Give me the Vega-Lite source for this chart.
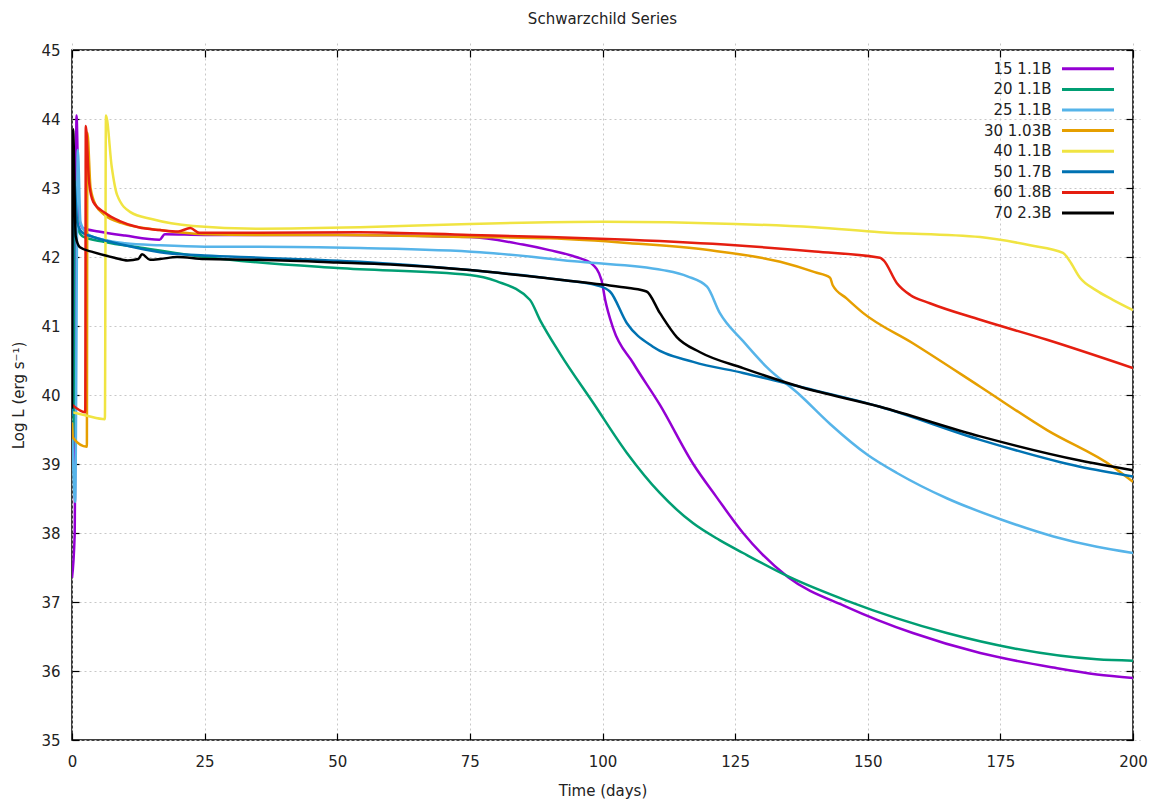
{
  "$schema": "https://vega.github.io/schema/vega-lite/v6.json",
  "width": 1061,
  "height": 690,
  "autosize": {"type": "none"},
  "padding": {"left": 72, "top": 50, "right": 31, "bottom": 63},
  "background": "white",
  "title": {"text": "Schwarzchild Series", "fontSize": 15, "font": "DejaVu Sans", "fontWeight": "normal", "color": "#222", "offset": 16, "anchor": "middle"},
  "config": {
    "view": {"stroke": "black", "strokeWidth": 1.5},
    "axis": {"labelFont": "DejaVu Sans", "titleFont": "DejaVu Sans", "labelFontSize": 15, "titleFontSize": 15, "labelColor": "#222", "titleColor": "#222", "titleFontWeight": "normal", "domain": false, "tickColor": "black", "tickWidth": 1.2, "tickSize": 7, "offset": -7, "labelFlush": false, "labelOverlap": false, "gridColor": "#c8c8c8", "gridDash": [2, 3], "gridWidth": 1}
  },
  "data": {"values": [
    {"s":"15 1.1B","t":0,"L":37.35},{"s":"15 1.1B","t":0.5,"L":37.97},{"s":"15 1.1B","t":0.85,"L":44.05},{"s":"15 1.1B","t":1.3,"L":42.6},{"s":"15 1.1B","t":2,"L":42.42},{"s":"15 1.1B","t":5,"L":42.37},{"s":"15 1.1B","t":10,"L":42.31},{"s":"15 1.1B","t":16.5,"L":42.25},{"s":"15 1.1B","t":17.5,"L":42.33},{"s":"15 1.1B","t":25,"L":42.32},{"s":"15 1.1B","t":50,"L":42.32},{"s":"15 1.1B","t":75,"L":42.29},{"s":"15 1.1B","t":85,"L":42.18},{"s":"15 1.1B","t":90,"L":42.1},{"s":"15 1.1B","t":95,"L":42.0},{"s":"15 1.1B","t":98,"L":41.9},{"s":"15 1.1B","t":99.8,"L":41.67},{"s":"15 1.1B","t":100.5,"L":41.38},{"s":"15 1.1B","t":102,"L":40.97},{"s":"15 1.1B","t":105.8,"L":40.46},{"s":"15 1.1B","t":110.8,"L":39.86},{"s":"15 1.1B","t":117.1,"L":39.0},{"s":"15 1.1B","t":121.5,"L":38.52},{"s":"15 1.1B","t":126.5,"L":38.0},{"s":"15 1.1B","t":130,"L":37.7},{"s":"15 1.1B","t":135,"L":37.36},{"s":"15 1.1B","t":146,"L":36.93},{"s":"15 1.1B","t":158.5,"L":36.55},{"s":"15 1.1B","t":171.2,"L":36.26},{"s":"15 1.1B","t":185,"L":36.05},{"s":"15 1.1B","t":193.2,"L":35.95},{"s":"15 1.1B","t":200,"L":35.9},

    {"s":"20 1.1B","t":0,"L":39.0},{"s":"20 1.1B","t":0.3,"L":39.5},{"s":"20 1.1B","t":0.5,"L":43.1},{"s":"20 1.1B","t":1.2,"L":42.4},{"s":"20 1.1B","t":2,"L":42.3},{"s":"20 1.1B","t":6,"L":42.22},{"s":"20 1.1B","t":13.4,"L":42.13},{"s":"20 1.1B","t":25,"L":42.0},{"s":"20 1.1B","t":50,"L":41.84},{"s":"20 1.1B","t":75,"L":41.74},{"s":"20 1.1B","t":80,"L":41.65},{"s":"20 1.1B","t":86.3,"L":41.38},{"s":"20 1.1B","t":88.2,"L":41.09},{"s":"20 1.1B","t":92,"L":40.6},{"s":"20 1.1B","t":98.3,"L":39.88},{"s":"20 1.1B","t":104.6,"L":39.16},{"s":"20 1.1B","t":110.8,"L":38.58},{"s":"20 1.1B","t":117.1,"L":38.14},{"s":"20 1.1B","t":122,"L":37.9},{"s":"20 1.1B","t":126.5,"L":37.71},{"s":"20 1.1B","t":135,"L":37.37},{"s":"20 1.1B","t":146,"L":37.02},{"s":"20 1.1B","t":164.9,"L":36.55},{"s":"20 1.1B","t":177.4,"L":36.33},{"s":"20 1.1B","t":193.2,"L":36.17},{"s":"20 1.1B","t":200,"L":36.15},

    {"s":"25 1.1B","t":0,"L":39.6},{"s":"25 1.1B","t":0.6,"L":38.45},{"s":"25 1.1B","t":1.1,"L":43.55},{"s":"25 1.1B","t":1.6,"L":42.5},{"s":"25 1.1B","t":3,"L":42.33},{"s":"25 1.1B","t":6,"L":42.25},{"s":"25 1.1B","t":10,"L":42.2},{"s":"25 1.1B","t":16.6,"L":42.17},{"s":"25 1.1B","t":25,"L":42.15},{"s":"25 1.1B","t":35.4,"L":42.15},{"s":"25 1.1B","t":54.3,"L":42.13},{"s":"25 1.1B","t":76.9,"L":42.07},{"s":"25 1.1B","t":95.8,"L":41.93},{"s":"25 1.1B","t":111.4,"L":41.81},{"s":"25 1.1B","t":116,"L":41.72},{"s":"25 1.1B","t":119.7,"L":41.57},{"s":"25 1.1B","t":122.1,"L":41.19},{"s":"25 1.1B","t":126.5,"L":40.78},{"s":"25 1.1B","t":131,"L":40.4},{"s":"25 1.1B","t":137.2,"L":40.0},{"s":"25 1.1B","t":142.9,"L":39.58},{"s":"25 1.1B","t":150,"L":39.13},{"s":"25 1.1B","t":155.5,"L":38.87},{"s":"25 1.1B","t":165,"L":38.5},{"s":"25 1.1B","t":175,"L":38.2},{"s":"25 1.1B","t":185,"L":37.95},{"s":"25 1.1B","t":193.2,"L":37.8},{"s":"25 1.1B","t":200,"L":37.71},

    {"s":"30 1.03B","t":0,"L":39.6},{"s":"30 1.03B","t":0.2,"L":39.38},{"s":"30 1.03B","t":2.8,"L":39.25},{"s":"30 1.03B","t":2.9,"L":43.8},{"s":"30 1.03B","t":3.5,"L":43.0},{"s":"30 1.03B","t":4.5,"L":42.75},{"s":"30 1.03B","t":6,"L":42.62},{"s":"30 1.03B","t":9.4,"L":42.49},{"s":"30 1.03B","t":16.6,"L":42.39},{"s":"30 1.03B","t":25,"L":42.33},{"s":"30 1.03B","t":35,"L":42.32},{"s":"30 1.03B","t":50,"L":42.32},{"s":"30 1.03B","t":75,"L":42.29},{"s":"30 1.03B","t":90,"L":42.27},{"s":"30 1.03B","t":105.2,"L":42.2},{"s":"30 1.03B","t":120,"L":42.1},{"s":"30 1.03B","t":133.5,"L":41.93},{"s":"30 1.03B","t":140,"L":41.78},{"s":"30 1.03B","t":142.9,"L":41.7},{"s":"30 1.03B","t":143.4,"L":41.59},{"s":"30 1.03B","t":146,"L":41.4},{"s":"30 1.03B","t":149.1,"L":41.19},{"s":"30 1.03B","t":158.5,"L":40.75},{"s":"30 1.03B","t":171.2,"L":40.12},{"s":"30 1.03B","t":183.8,"L":39.49},{"s":"30 1.03B","t":196.2,"L":38.96},{"s":"30 1.03B","t":200,"L":38.74},

    {"s":"40 1.1B","t":0,"L":39.75},{"s":"40 1.1B","t":2.8,"L":39.7},{"s":"40 1.1B","t":6.2,"L":39.65},{"s":"40 1.1B","t":6.4,"L":44.05},{"s":"40 1.1B","t":7.5,"L":43.3},{"s":"40 1.1B","t":8.5,"L":42.9},{"s":"40 1.1B","t":11,"L":42.65},{"s":"40 1.1B","t":15,"L":42.55},{"s":"40 1.1B","t":22.8,"L":42.45},{"s":"40 1.1B","t":35.4,"L":42.41},{"s":"40 1.1B","t":54.3,"L":42.43},{"s":"40 1.1B","t":75,"L":42.48},{"s":"40 1.1B","t":100,"L":42.51},{"s":"40 1.1B","t":125,"L":42.48},{"s":"40 1.1B","t":140,"L":42.43},{"s":"40 1.1B","t":152.3,"L":42.36},{"s":"40 1.1B","t":171.2,"L":42.29},{"s":"40 1.1B","t":180.6,"L":42.17},{"s":"40 1.1B","t":186.8,"L":42.06},{"s":"40 1.1B","t":188,"L":41.95},{"s":"40 1.1B","t":190,"L":41.7},{"s":"40 1.1B","t":193,"L":41.52},{"s":"40 1.1B","t":196.2,"L":41.38},{"s":"40 1.1B","t":200,"L":41.23},

    {"s":"50 1.7B","t":0,"L":39.7},{"s":"50 1.7B","t":0.4,"L":43.1},{"s":"50 1.7B","t":1.0,"L":42.5},{"s":"50 1.7B","t":2,"L":42.35},{"s":"50 1.7B","t":4,"L":42.29},{"s":"50 1.7B","t":10,"L":42.17},{"s":"50 1.7B","t":16.6,"L":42.07},{"s":"50 1.7B","t":25,"L":42.02},{"s":"50 1.7B","t":35.4,"L":41.99},{"s":"50 1.7B","t":54.3,"L":41.93},{"s":"50 1.7B","t":75,"L":41.81},{"s":"50 1.7B","t":92,"L":41.67},{"s":"50 1.7B","t":98.9,"L":41.59},{"s":"50 1.7B","t":101.4,"L":41.5},{"s":"50 1.7B","t":104.6,"L":41.04},{"s":"50 1.7B","t":109.5,"L":40.7},{"s":"50 1.7B","t":117.1,"L":40.48},{"s":"50 1.7B","t":126.5,"L":40.32},{"s":"50 1.7B","t":137.2,"L":40.12},{"s":"50 1.7B","t":152.3,"L":39.83},{"s":"50 1.7B","t":171.2,"L":39.35},{"s":"50 1.7B","t":190,"L":38.96},{"s":"50 1.7B","t":200,"L":38.82},

    {"s":"60 1.8B","t":0,"L":39.86},{"s":"60 1.8B","t":2.5,"L":39.75},{"s":"60 1.8B","t":2.6,"L":43.9},{"s":"60 1.8B","t":3.2,"L":43.1},{"s":"60 1.8B","t":4,"L":42.8},{"s":"60 1.8B","t":6.2,"L":42.64},{"s":"60 1.8B","t":9,"L":42.52},{"s":"60 1.8B","t":12.5,"L":42.43},{"s":"60 1.8B","t":16.6,"L":42.39},{"s":"60 1.8B","t":20,"L":42.37},{"s":"60 1.8B","t":22.3,"L":42.42},{"s":"60 1.8B","t":24,"L":42.35},{"s":"60 1.8B","t":35,"L":42.35},{"s":"60 1.8B","t":54,"L":42.36},{"s":"60 1.8B","t":75,"L":42.32},{"s":"60 1.8B","t":90,"L":42.29},{"s":"60 1.8B","t":105,"L":42.25},{"s":"60 1.8B","t":125,"L":42.17},{"s":"60 1.8B","t":140,"L":42.08},{"s":"60 1.8B","t":152.3,"L":41.99},{"s":"60 1.8B","t":153,"L":41.95},{"s":"60 1.8B","t":155.5,"L":41.62},{"s":"60 1.8B","t":158,"L":41.45},{"s":"60 1.8B","t":161.7,"L":41.33},{"s":"60 1.8B","t":171.2,"L":41.09},{"s":"60 1.8B","t":183.8,"L":40.8},{"s":"60 1.8B","t":200,"L":40.39},

    {"s":"70 2.3B","t":0,"L":39.8},{"s":"70 2.3B","t":0.2,"L":43.85},{"s":"70 2.3B","t":0.7,"L":42.3},{"s":"70 2.3B","t":1.5,"L":42.14},{"s":"70 2.3B","t":4,"L":42.07},{"s":"70 2.3B","t":8,"L":41.99},{"s":"70 2.3B","t":10.5,"L":41.95},{"s":"70 2.3B","t":12.5,"L":41.97},{"s":"70 2.3B","t":13.2,"L":42.04},{"s":"70 2.3B","t":14.7,"L":41.96},{"s":"70 2.3B","t":16.6,"L":41.97},{"s":"70 2.3B","t":19.8,"L":42.0},{"s":"70 2.3B","t":25,"L":41.97},{"s":"70 2.3B","t":35,"L":41.96},{"s":"70 2.3B","t":50,"L":41.92},{"s":"70 2.3B","t":60,"L":41.89},{"s":"70 2.3B","t":75,"L":41.81},{"s":"70 2.3B","t":92,"L":41.67},{"s":"70 2.3B","t":100,"L":41.6},{"s":"70 2.3B","t":105,"L":41.55},{"s":"70 2.3B","t":108.3,"L":41.5},{"s":"70 2.3B","t":110.8,"L":41.19},{"s":"70 2.3B","t":114,"L":40.84},{"s":"70 2.3B","t":118.4,"L":40.62},{"s":"70 2.3B","t":126.5,"L":40.39},{"s":"70 2.3B","t":137.2,"L":40.12},{"s":"70 2.3B","t":152.3,"L":39.83},{"s":"70 2.3B","t":171.2,"L":39.4},{"s":"70 2.3B","t":190,"L":39.05},{"s":"70 2.3B","t":200,"L":38.91}
  ]},
  "layer": [
    {
      "mark": {"type": "line", "strokeWidth": 2.5, "clip": true, "interpolate": "monotone"},
      "encoding": {
        "x": {"field": "t", "type": "quantitative", "scale": {"domain": [0, 200], "nice": false, "zero": false},
              "axis": {"title": "Time (days)", "values": [0,25,50,75,100,125,150,175,200], "labelPadding": 14, "titlePadding": 14, "grid": true}},
        "y": {"field": "L", "type": "quantitative", "scale": {"domain": [35, 45], "nice": false, "zero": false},
              "axis": {"title": "Log L (erg s⁻¹)", "values": [35,36,37,38,39,40,41,42,43,44,45], "labelPadding": 12, "titlePadding": 14, "grid": true}},
        "color": {"field": "s", "type": "nominal",
          "scale": {"domain": ["15 1.1B","20 1.1B","25 1.1B","30 1.03B","40 1.1B","50 1.7B","60 1.8B","70 2.3B"],
                    "range": ["#9400D3","#009E73","#56B4E9","#E69F00","#F0E442","#0072B2","#E51E10","#000000"]},
          "legend": {"title": null, "orient": "none", "legendX": 1004.5, "legendY": 7.3, "symbolType": "M-2.6,0H2.6", "symbolSize": 400, "symbolStrokeWidth": 3, "rowPadding": 0.6, "labelFont": "DejaVu Sans", "labelFontSize": 15, "labelColor": "#222", "labelAlign": "right", "labelOffset": -48, "labelLimit": 200}
        }
      }
    },
    {
      "mark": {"type": "line", "strokeOpacity": 0},
      "encoding": {
        "x": {"field": "t", "type": "quantitative", "axis": {"orient": "top", "title": null, "labels": false, "values": [0,25,50,75,100,125,150,175,200], "grid": false}},
        "y": {"field": "L", "type": "quantitative", "axis": {"orient": "right", "title": null, "labels": false, "values": [35,36,37,38,39,40,41,42,43,44,45], "grid": false}},
        "detail": {"field": "s", "type": "nominal"}
      }
    }
  ],
  "resolve": {"axis": {"x": "independent", "y": "independent"}}
}
